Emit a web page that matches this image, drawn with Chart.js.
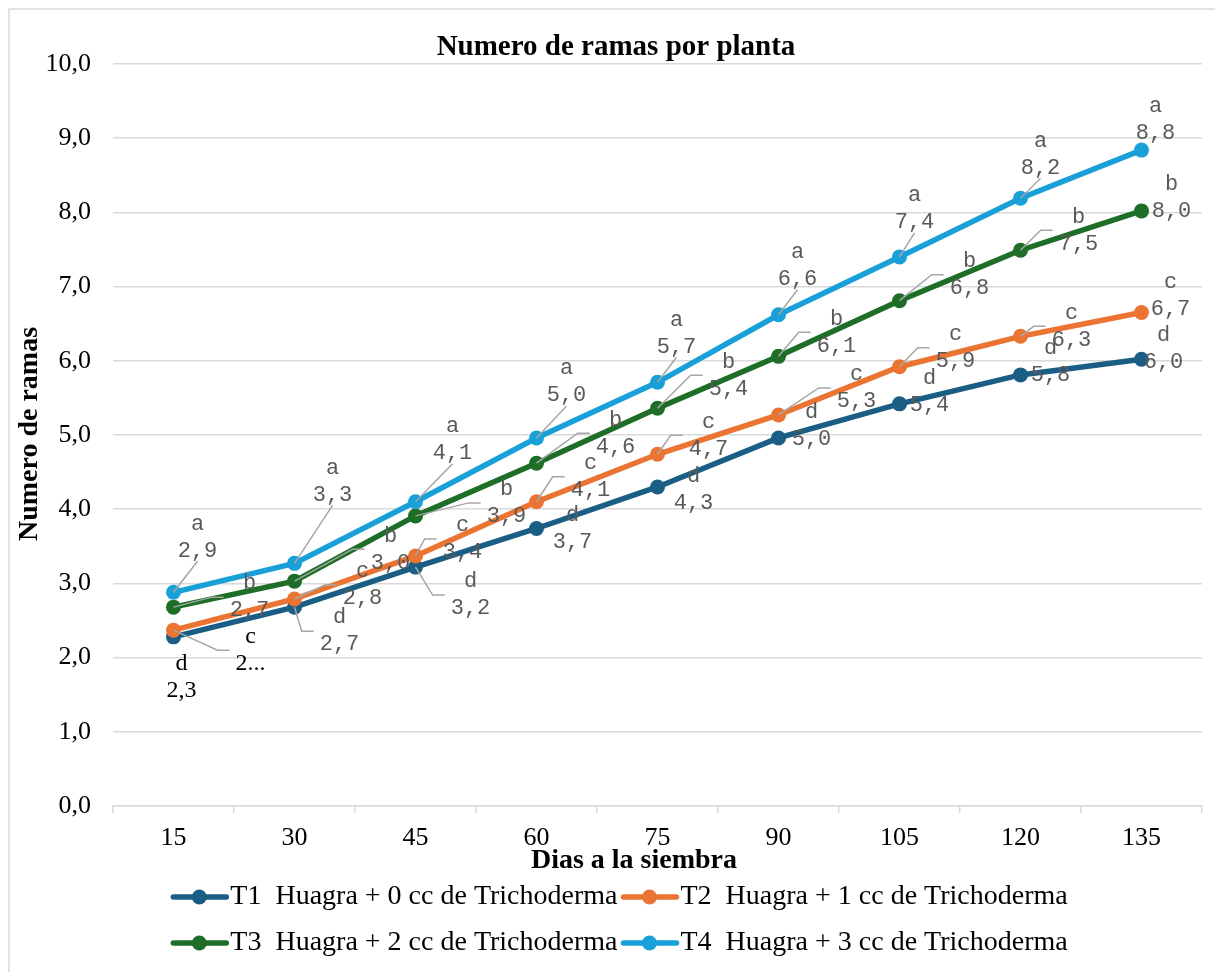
<!DOCTYPE html>
<html>
<head>
<meta charset="utf-8">
<script src="https://cdn.jsdelivr.net/npm/chart.js@4.4.0/dist/chart.umd.min.js"></script>
<style>
  html, body { margin: 0; padding: 0; background: #fff; }
  #wrap { width: 1215px; height: 972px; }
</style>
</head>
<body>
<div id="wrap"><canvas id="ramasChart" width="1215" height="972"></canvas></div>
<script>
// datos
var dias = ["15", "30", "45", "60", "75", "90", "105", "120", "135"];
var nombres = [
  "T1  Huagra + 0 cc de Trichoderma",
  "T2  Huagra + 1 cc de Trichoderma",
  "T3  Huagra + 2 cc de Trichoderma",
  "T4  Huagra + 3 cc de Trichoderma"
];
var t1 = [2.28, 2.68, 3.22, 3.74, 4.30, 4.96, 5.42, 5.81, 6.02];
var t2 = [2.37, 2.79, 3.37, 4.10, 4.74, 5.27, 5.92, 6.33, 6.65];
var t3 = [2.68, 3.03, 3.91, 4.62, 5.36, 6.06, 6.81, 7.49, 8.02];
var t4 = [2.88, 3.27, 4.10, 4.96, 5.71, 6.62, 7.40, 8.19, 8.84];
var letras = ["d", "c", "b", "a"];
var colores = ["#1B5E85", "#EB7433", "#1E6E28", "#1AA0D8"];
var titulo = "Numero de ramas por planta";
var tituloX = "Dias a la siembra";
var tituloY = "Numero de ramas";

// desplazamiento de cada etiqueta respecto a su punto (px)
var desplaz = [
  [[8,40],[45,24],[55,28],[36,0],[36,3],[33,-12],[30,-12],[30,-13],[22,-11]],
  [[77,20],[68,-14],[47,-17],[54,-25],[51,-19],[78,-27],[56,-19],[51,-10],[29,-17]],
  [[76,-10],[96,-32],[91,-13],[79,-30],[71,-33],[58,-24],[70,-26],[58,-20],[30,-13]],
  [[24,-55],[38,-82],[37,-62],[30,-56],[19,-49],[19,-49],[15,-48],[20,-44],[14,-30]]
];

function coma(v) { return v.toFixed(1).replace('.', ','); }

var serif = '"Liberation Serif", "Times New Roman", serif';

var marco = {
  id: 'marco',
  beforeDraw: function(chart) {
    var ctx = chart.ctx;
    ctx.save();
    ctx.fillStyle = '#fff';
    ctx.fillRect(0, 0, chart.width, chart.height);
    ctx.strokeStyle = '#d9d9d9';
    ctx.lineWidth = 1.5;
    ctx.beginPath();
    ctx.moveTo(9, chart.height);
    ctx.lineTo(9, 9);
    ctx.lineTo(chart.width, 9);
    ctx.stroke();
    ctx.restore();
  },
  afterDraw: function(chart) {
    var ctx = chart.ctx;
    ctx.save();
    ctx.fillStyle = '#000';
    ctx.textAlign = 'center';
    ctx.textBaseline = 'middle';
    ctx.font = 'bold 29px ' + serif;
    ctx.fillText(titulo, 616, 48);
    ctx.font = 'bold 28px ' + serif;
    ctx.fillText(tituloX, 634, chart.chartArea.bottom + 55);
    ctx.translate(30, 434);
    ctx.rotate(-Math.PI / 2);
    ctx.fillText(tituloY, 0, 0);
    ctx.restore();
  }
};

var etiquetas = {
  id: 'etiquetas',
  afterDatasetsDraw: function(chart) {
    var ctx = chart.ctx;
    chart.data.datasets.forEach(function(ds, i) {
      var meta = chart.getDatasetMeta(i);
      meta.data.forEach(function(pt, j) {
        var off = desplaz[i][j];
        var cx = pt.x + off[0], cy = pt.y + off[1];
        var conSerif = (j === 0 && i < 2);
        ctx.save();
        ctx.font = conSerif ? '24px ' + serif : '22px "Liberation Mono"';
        var valor = coma(ds.data[j]);
        if (i === 1 && j === 0) valor = '2...';
        var w = Math.max(ctx.measureText(valor).width, ctx.measureText(letras[i]).width) + 4;
        var left = cx - w / 2, right = cx + w / 2, top = cy - 24, bottom = cy + 24;
        var gx = pt.x < left ? left - pt.x : (pt.x > right ? pt.x - right : 0);
        var gy = pt.y < top ? top - pt.y : (pt.y > bottom ? pt.y - bottom : 0);
        if (Math.max(gx, gy) > 18) {
          ctx.strokeStyle = '#a6a6a6';
          ctx.lineWidth = 1.5;
          ctx.beginPath();
          ctx.moveTo(pt.x, pt.y);
          if (gy > gx) {
            ctx.lineTo(cx, pt.y > bottom ? bottom : top);
          } else {
            var s = pt.x < left ? -1 : 1;
            var edge = s < 0 ? left : right;
            ctx.lineTo(edge + s * 16, cy);
            ctx.lineTo(edge + s * 4, cy);
          }
          ctx.stroke();
        }
        ctx.fillStyle = conSerif ? '#000' : '#595959';
        ctx.textAlign = 'center';
        ctx.textBaseline = 'middle';
        ctx.fillText(letras[i], cx, cy - 13.5);
        ctx.fillText(valor, cx, cy + 13.5);
        ctx.restore();
      });
    });
  }
};

var leyenda = {
  id: 'leyenda',
  afterDraw: function(chart) {
    var ctx = chart.ctx;
    var sets = chart.data.datasets;
    ctx.save();
    ctx.font = '28px ' + serif;
    [[0, 1], [2, 3]].forEach(function(fila, r) {
      var y = chart.chartArea.bottom + 91 + r * 46;
      var anchos = fila.map(function(k) { return 59 + ctx.measureText(sets[k].label).width; });
      var total = anchos[0] + anchos[1] + 4;
      var x = chart.width / 2 + 12 - total / 2;
      fila.forEach(function(k, n) {
        var c = sets[k].borderColor;
        ctx.strokeStyle = c;
        ctx.lineWidth = 5.5;
        ctx.lineCap = 'round';
        ctx.beginPath();
        ctx.moveTo(x + 2, y);
        ctx.lineTo(x + 55, y);
        ctx.stroke();
        ctx.fillStyle = c;
        ctx.beginPath();
        ctx.arc(x + 28, y, 7.5, 0, Math.PI * 2);
        ctx.fill();
        ctx.fillStyle = '#000';
        ctx.textAlign = 'left';
        ctx.textBaseline = 'middle';
        ctx.fillText(sets[k].label, x + 59, y);
        x += anchos[n] + 4;
      });
    });
    ctx.restore();
  }
};

function serie(i, datos) {
  return {
    label: nombres[i],
    data: datos,
    borderColor: colores[i],
    backgroundColor: colores[i],
    pointBackgroundColor: colores[i],
    pointBorderColor: colores[i],
    borderWidth: 5.5,
    pointRadius: 7.5,
    pointBorderWidth: 0,
    tension: 0,
    fill: false,
    order: 3 - i
  };
}

new Chart(document.getElementById("ramasChart").getContext("2d"), {
  type: 'line',
  data: {
    labels: dias,
    datasets: [serie(0, t1), serie(1, t2), serie(2, t3), serie(3, t4)]
  },
  options: {
    responsive: false,
    animation: false,
    layout: { padding: { top: 64, left: 0, right: 13, bottom: 91 } },
    plugins: {
      legend: { display: false },
      tooltip: { enabled: false },
      title: { display: false }
    },
    scales: {
      x: {
        offset: true,
        grid: { offset: true, drawOnChartArea: false, drawTicks: true, tickLength: 7, color: '#d9d9d9', lineWidth: 1.5 },
        border: { color: '#d9d9d9', width: 1.5 },
        ticks: { color: '#000', padding: 10, font: { family: serif, size: 26 }, maxRotation: 0 },
        afterFit: function(scale) { scale.height = 75; }
      },
      y: {
        min: 0,
        max: 10,
        grid: { color: '#d9d9d9', lineWidth: 1.5, drawTicks: false },
        border: { display: false },
        ticks: {
          stepSize: 1,
          padding: 22,
          color: '#000',
          font: { family: serif, size: 26 },
          callback: function(v) { return coma(v); }
        },
        afterFit: function(scale) { scale.width = 113; }
      }
    }
  },
  plugins: [marco, etiquetas, leyenda]
});
</script>
</body>
</html>
